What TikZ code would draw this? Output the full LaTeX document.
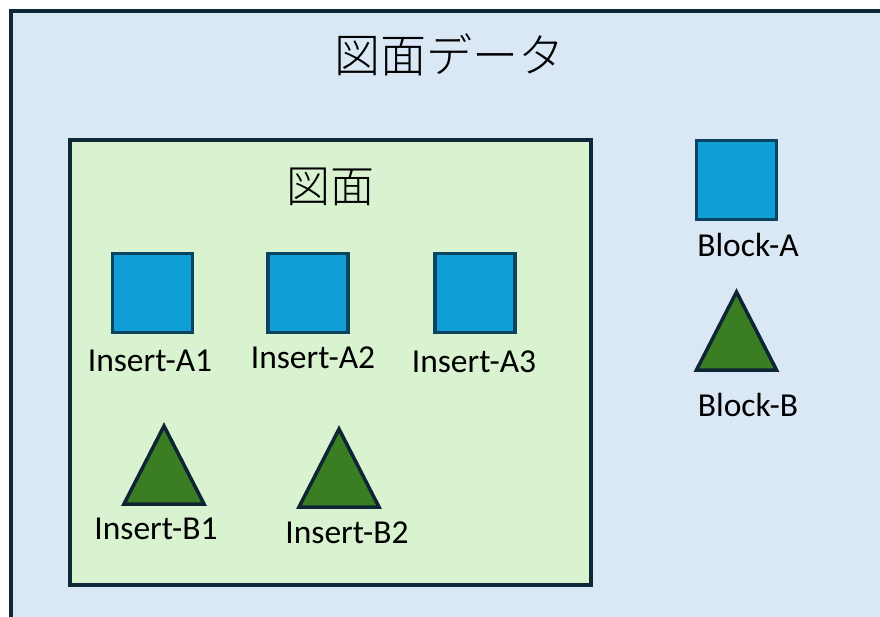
\documentclass[tikz,border=0pt]{standalone}
\usepackage{fontspec}
\setmainfont{Carlito}
\newfontfamily\cjk{Noto Sans CJK JP Light}
\definecolor{outerfill}{HTML}{DAE8F6}
\definecolor{framecol}{HTML}{0D2837}
\definecolor{greenfill}{HTML}{D9F2D0}
\definecolor{sqfill}{HTML}{0F9ED5}
\definecolor{sqline}{HTML}{0B4460}
\definecolor{trifill}{HTML}{3B7D23}
\definecolor{triline}{HTML}{0E2535}
\tikzset{
  sq/.style={draw=sqline, fill=sqfill, line width=3.5pt, minimum width=80pt, minimum height=79pt, inner sep=0pt},
  lbl/.style={font=\fontsize{33.5}{37}\selectfont, inner sep=0pt, anchor=center},
  tri/.pic={\path[draw=triline, fill=trifill, line width=3.5pt, line join=miter] (0,-39) -- (40,39) -- (-40,39) -- cycle;}
}
\begin{document}
\begin{tikzpicture}[x=1pt,y=-1pt]
\useasboundingbox (0,0) rectangle (880,617);
\fill[white] (0,0) rectangle (880,617);
\draw[draw=framecol, fill=outerfill, line width=4pt] (11,11) rectangle (900,640);
\node[font=\cjk\fontsize{46}{50}\selectfont, inner sep=0pt] (title) at (449,55) {図面データ};
\draw[draw=framecol, fill=greenfill, line width=4pt] (70,140) rectangle (591,585);
\node[font=\cjk\fontsize{44}{48}\selectfont, inner sep=0pt] (zumen) at (330,187) {図面};
\node[sq] (ia1) at (152.5,293) {};
\node[sq] (ia2) at (308,293) {};
\node[sq] (ia3) at (475,293) {};
\node[sq] (ba) at (736.5,180) {};
\pic at (164,465) {tri};
\pic at (339,468) {tri};
\pic at (736.5,331) {tri};
\node[lbl] (lia1) at (150,361) {Insert-A1};
\node[lbl] (lia2) at (313,358) {Insert-A2};
\node[lbl] (lia3) at (474,362) {Insert-A3};
\node[lbl] (lba) at (748,245) {Block-A};
\node[lbl] (lbb) at (748,405) {Block-B};
\node[lbl] (lib1) at (156,529) {Insert-B1};
\node[lbl] (lib2) at (347,533) {Insert-B2};
\end{tikzpicture}
\end{document}
